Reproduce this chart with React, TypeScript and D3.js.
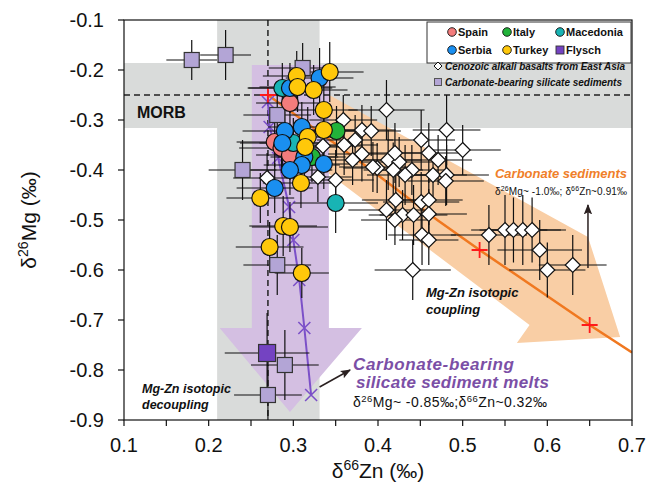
import React from 'react';
import * as d3 from 'd3';

const width = 646;
const height = 495;
const margin = { top: 20, right: 14, bottom: 75, left: 124 };

// [δ66Zn, δ26Mg, ±Zn, ±Mg]
const spain = [
  [0.296, -0.266, 0.04, 0.05],
  [0.278, -0.344, 0.045, 0.05],
  [0.286, -0.356, 0.05, 0.05],
  [0.296, -0.37, 0.04, 0.05],
];
const italy = [
  [0.351, -0.322, 0.05, 0.05],
  [0.322, -0.374, 0.04, 0.05],
];
const macedonia = [
  [0.287, -0.236, 0.04, 0.05],
  [0.3, -0.346, 0.04, 0.05],
  [0.35, -0.466, 0.05, 0.06],
];
const serbia = [
  [0.331, -0.216, 0.04, 0.06],
  [0.296, -0.236, 0.05, 0.05],
  [0.29, -0.322, 0.05, 0.05],
  [0.31, -0.314, 0.04, 0.05],
  [0.287, -0.346, 0.05, 0.05],
  [0.313, -0.374, 0.04, 0.05],
  [0.31, -0.39, 0.045, 0.05],
  [0.336, -0.388, 0.04, 0.05],
  [0.296, -0.4, 0.05, 0.05],
  [0.278, -0.436, 0.045, 0.05],
];
const turkey = [
  [0.304, -0.212, 0.04, 0.05],
  [0.343, -0.204, 0.04, 0.06],
  [0.305, -0.234, 0.045, 0.05],
  [0.324, -0.24, 0.04, 0.05],
  [0.336, -0.28, 0.04, 0.05],
  [0.336, -0.32, 0.045, 0.05],
  [0.317, -0.334, 0.04, 0.06],
  [0.314, -0.354, 0.04, 0.05],
  [0.309, -0.426, 0.045, 0.05],
  [0.261, -0.456, 0.04, 0.05],
  [0.288, -0.512, 0.04, 0.06],
  [0.296, -0.514, 0.045, 0.05],
  [0.272, -0.554, 0.04, 0.05],
  [0.31, -0.606, 0.032, 0.05],
];
const flysch = [[0.269, -0.766, 0.05, 0.08]];
const sediments = [
  [0.18, -0.18, 0.03, 0.04],
  [0.22, -0.17, 0.03, 0.05],
  [0.311, -0.196, 0.04, 0.05],
  [0.281, -0.29, 0.04, 0.06],
  [0.24, -0.4, 0.04, 0.06],
  [0.281, -0.59, 0.04, 0.06],
  [0.29, -0.79, 0.04, 0.07],
  [0.27, -0.85, 0.04, 0.06],
];
const eastAsia = [
  [0.41, -0.28, 0.045, 0.06], [0.381, -0.32, 0.04, 0.05], [0.392, -0.322, 0.035, 0.05],
  [0.373, -0.34, 0.045, 0.05], [0.381, -0.368, 0.04, 0.055], [0.37, -0.38, 0.05, 0.05],
  [0.451, -0.34, 0.04, 0.06], [0.481, -0.32, 0.04, 0.07], [0.5, -0.36, 0.045, 0.05],
  [0.46, -0.366, 0.045, 0.06], [0.471, -0.38, 0.04, 0.05], [0.412, -0.38, 0.04, 0.06],
  [0.425, -0.384, 0.045, 0.05], [0.42, -0.366, 0.035, 0.06], [0.44, -0.4, 0.04, 0.05],
  [0.432, -0.41, 0.045, 0.06], [0.399, -0.396, 0.04, 0.05], [0.418, -0.4, 0.035, 0.055],
  [0.465, -0.41, 0.04, 0.05], [0.481, -0.41, 0.05, 0.06], [0.48, -0.422, 0.045, 0.05],
  [0.421, -0.46, 0.04, 0.05], [0.451, -0.464, 0.045, 0.06], [0.46, -0.46, 0.04, 0.05],
  [0.41, -0.48, 0.045, 0.06], [0.429, -0.49, 0.04, 0.05], [0.442, -0.49, 0.04, 0.06],
  [0.46, -0.488, 0.045, 0.05], [0.452, -0.53, 0.04, 0.06], [0.46, -0.54, 0.035, 0.05],
  [0.441, -0.6, 0.045, 0.06], [0.531, -0.53, 0.045, 0.06], [0.55, -0.52, 0.04, 0.07],
  [0.56, -0.52, 0.04, 0.065], [0.571, -0.52, 0.045, 0.07], [0.582, -0.52, 0.04, 0.065],
  [0.591, -0.56, 0.05, 0.06], [0.6, -0.6, 0.045, 0.055], [0.63, -0.59, 0.04, 0.06],
  [0.359, -0.3, 0.04, 0.05], [0.335, -0.352, 0.045, 0.05], [0.36, -0.35, 0.04, 0.06],
  [0.329, -0.414, 0.04, 0.05], [0.35, -0.42, 0.045, 0.06], [0.269, -0.416, 0.04, 0.05],
  [0.42, -0.5, 0.04, 0.05], [0.394, -0.394, 0.04, 0.05],
];

// mixing curves
const carbonateLine = [[0.27, -0.25], [0.38, -0.385], [0.47, -0.5], [0.52, -0.56], [0.65, -0.71], [0.7, -0.765]];
const carbonateMarks = [[0.27, -0.25], [0.52, -0.56], [0.65, -0.71]];
const meltLine = [[0.27, -0.25], [0.27, -0.264], [0.272, -0.314], [0.282, -0.376], [0.295, -0.474], [0.3, -0.54], [0.307, -0.62], [0.313, -0.716], [0.321, -0.85]];
const meltMarks = meltLine.slice(1);

// reference fields
const morbMg = [-0.316, -0.186];
const morbZn = [0.21, 0.331];
const mantle = [0.27, -0.25];
const orangeArrow = [[0.308, -0.218], [0.648, -0.534], [0.686, -0.734], [0.564, -0.746], [0.579, -0.71], [0.308, -0.364]];
const purpleArrow = [[0.251, -0.19], [0.342, -0.19], [0.342, -0.716], [0.381, -0.716], [0.296, -0.884], [0.213, -0.716], [0.251, -0.716]];
const carbArrow = [[0.648, -0.596], [0.648, -0.47]];
const meltArrow = [[0.331, -0.834], [0.367, -0.8]];

const xTicks = [0.1, 0.15, 0.2, 0.25, 0.3, 0.35, 0.4, 0.45, 0.5, 0.55, 0.6, 0.65, 0.7];
const xLabels = [0.1, 0.2, 0.3, 0.4, 0.5, 0.6, 0.7];
const yTicks = [-0.1, -0.2, -0.3, -0.4, -0.5, -0.6, -0.7, -0.8, -0.9];

const font = '"Liberation Sans", Arial, Helvetica, sans-serif';

const App = () => {
  const x = d3.scaleLinear().domain([0.1, 0.7]).range([margin.left, width - margin.right - 0]);
  const y = d3.scaleLinear().domain([-0.9, -0.1]).range([height - margin.bottom, margin.top]);
  const x0 = x(0.1), x1 = x(0.7), y0 = y(-0.9), y1 = y(-0.1);
  const poly = (pts) => pts.map(p => `${x(p[0])},${y(p[1])}`).join(' ');
  const line = d3.line().x(d => x(d[0])).y(d => y(d[1]));

  const errBars = (data, key) => data.map((d, i) => (
    <g key={key + i} stroke="#111" strokeWidth={1.2}>
      <line x1={x(d[0] - d[2])} x2={x(d[0] + d[2])} y1={y(d[1])} y2={y(d[1])} />
      <line x1={x(d[0])} x2={x(d[0])} y1={y(d[1] - d[3])} y2={y(d[1] + d[3])} />
    </g>
  ));
  const circles = (data, color, key) => data.map((d, i) => (
    <circle key={key + i} cx={x(d[0])} cy={y(d[1])} r={8.5} fill={color} stroke="#111" strokeWidth={1.2} />
  ));
  const squares = (data, color, s, key) => data.map((d, i) => (
    <rect key={key + i} x={x(d[0]) - s / 2} y={y(d[1]) - s / 2} width={s} height={s} fill={color} stroke="#333" strokeWidth={1.2} />
  ));
  const diamond = (cx, cy, r) => `M${cx},${cy - r}L${cx + r},${cy}L${cx},${cy + r}L${cx - r},${cy}Z`;

  const series = [
    [spain, '#f47c7c', 'sp'],
    [italy, '#22b33a', 'it'],
    [macedonia, '#18b4b4', 'mk'],
    [serbia, '#1a8ff0', 'rs'],
    [turkey, '#ffc80a', 'tr'],
  ];

  return (
    <svg width={width} height={height} style={{ position: 'absolute', left: 0, top: 0, fontFamily: font }}>
      <defs>
        <clipPath id="plot"><rect x={x0} y={y1} width={x1 - x0} height={y0 - y1} /></clipPath>
        <marker id="ah" viewBox="0 0 10 10" refX="9" refY="5" markerWidth="7" markerHeight="7" orient="auto">
          <path d="M0,1L10,5L0,9L2,5Z" fill="#2a2020" />
        </marker>
      </defs>
      <rect width={width} height={height} fill="#fff" />
      <g clipPath="url(#plot)">
        <rect x={x0} width={x1 - x0} y={y(morbMg[1])} height={y(morbMg[0]) - y(morbMg[1])} fill="#d9dbda" />
        <rect x={x(morbZn[0])} width={x(morbZn[1]) - x(morbZn[0])} y={y1} height={y0 - y1} fill="#d9dbda" />
        <polygon points={poly(orangeArrow)} fill="#f9cea5" />
        <polygon points={poly(purpleArrow)} fill="#d4bfe2" />
        <line x1={x0} x2={x1} y1={y(mantle[1])} y2={y(mantle[1])} stroke="#222" strokeWidth={1.5} strokeDasharray="6,4" />
        <line x1={x(mantle[0])} x2={x(mantle[0])} y1={y1} y2={y0} stroke="#222" strokeWidth={1.5} strokeDasharray="6,4" />
        <path d={line(carbonateLine)} fill="none" stroke="#f07820" strokeWidth={2.5} />
        <path d={line(meltLine)} fill="none" stroke="#7b50c8" strokeWidth={2} />
        {meltMarks.map((d, i) => (
          <path key={'mm' + i} d={`M${x(d[0]) - 6},${y(d[1]) - 6}L${x(d[0]) + 6},${y(d[1]) + 6}M${x(d[0]) + 6},${y(d[1]) - 6}L${x(d[0]) - 6},${y(d[1]) + 6}`} stroke="#7b50c8" strokeWidth={1.6} />
        ))}
        {carbonateMarks.map((d, i) => (
          <path key={'cm' + i} d={`M${x(d[0]) - 8},${y(d[1])}L${x(d[0]) + 8},${y(d[1])}M${x(d[0])},${y(d[1]) - 8}L${x(d[0])},${y(d[1]) + 8}`} stroke="#ff1a1a" strokeWidth={1.8} />
        ))}
        {errBars(sediments, 'es')}
        {errBars(flysch, 'ef')}
        {errBars(eastAsia, 'ea')}
        {series.map(s => errBars(s[0], 'e' + s[2]))}
        {squares(sediments, '#b3a5d6', 15, 'sq')}
        {squares(flysch, '#7443c2', 17, 'fl')}
        {eastAsia.map((d, i) => (
          <path key={'dm' + i} d={diamond(x(d[0]), y(d[1]), 7.5)} fill="#fff" stroke="#111" strokeWidth={1.2} />
        ))}
        {series.map(s => circles(s[0], s[1], s[2]))}
      </g>

      {/* frame and axes */}
      <rect x={x0} y={y1} width={x1 - x0} height={y0 - y1} fill="none" stroke="#111" strokeWidth={1.2} />
      {xTicks.map(t => <line key={'xt' + t} x1={x(t)} x2={x(t)} y1={y0} y2={y0 + 6} stroke="#111" strokeWidth={1.2} />)}
      {xLabels.map(t => <text key={'xl' + t} x={x(t)} y={y0 + 32} fontSize={20} textAnchor="middle" fill="#111">{t.toFixed(1)}</text>)}
      {yTicks.map(t => <line key={'yt' + t} x1={x0 - 6} x2={x0} y1={y(t)} y2={y(t)} stroke="#111" strokeWidth={1.2} />)}
      {yTicks.map(t => <text key={'yl' + t} x={104} y={y(t) + 7} fontSize={20} textAnchor="end" fill="#111">{t.toFixed(1)}</text>)}
      <text x={(x0 + x1) / 2} y={478} fontSize={21} textAnchor="middle" fill="#111">δ<tspan dy={-8} fontSize={14}>66</tspan><tspan dy={8}>Zn (‰)</tspan></text>
      <text transform={`translate(36,${(y0 + y1) / 2}) rotate(-90)`} fontSize={21} textAnchor="middle" fill="#111">δ<tspan dy={-8} fontSize={14}>26</tspan><tspan dy={8}>Mg (‰)</tspan></text>

      {/* annotations */}
      <text x={137} y={118} fontSize={16} fontWeight="bold" fill="#111">MORB</text>
      <text x={495} y={178} fontSize={13} fontWeight="bold" fontStyle="italic" fill="#f07f2a" textLength={132}>Carbonate sediments</text>
      <text x={495} y={195} fontSize={10} fill="#111" textLength={132}>δ<tspan dy={-4} fontSize={7}>26</tspan><tspan dy={4}>Mg~ -1.0‰; δ</tspan><tspan dy={-4} fontSize={7}>66</tspan><tspan dy={4}>Zn~0.91‰</tspan></text>
      <path d={line(carbArrow)} stroke="#2a2020" strokeWidth={1.5} markerEnd="url(#ah)" />
      <text x={426} y={297} fontSize={13} fontWeight="bold" fontStyle="italic" fill="#111">Mg-Zn isotopic</text>
      <text x={426} y={314} fontSize={13} fontWeight="bold" fontStyle="italic" fill="#111">coupling</text>
      <text x={142} y={393} fontSize={12.5} fontWeight="bold" fontStyle="italic" fill="#111">Mg-Zn isotopic</text>
      <text x={142} y={409} fontSize={12.5} fontWeight="bold" fontStyle="italic" fill="#111">decoupling</text>
      <path d={line(meltArrow)} stroke="#2a2020" strokeWidth={1.5} markerEnd="url(#ah)" />
      <text x={353} y={370} fontSize={17} fontWeight="bold" fontStyle="italic" fill="#7b4fa6" textLength={161}>Carbonate-bearing</text>
      <text x={356} y={388} fontSize={17} fontWeight="bold" fontStyle="italic" fill="#7b4fa6" textLength={193}>silicate sediment melts</text>
      <text x={353} y={407} fontSize={14} fill="#111" textLength={194}>δ<tspan dy={-5} fontSize={9.5}>26</tspan><tspan dy={5}>Mg~ -0.85‰;δ</tspan><tspan dy={-5} fontSize={9.5}>66</tspan><tspan dy={5}>Zn~0.32‰</tspan></text>

      {/* legend */}
      <rect x={427} y={22} width={204} height={41} fill="#fff" stroke="#333" strokeWidth={1} />
      {[
        ['Spain', '#f47c7c', 452, 32, 'c'],
        ['Italy', '#22b33a', 507, 32, 'c'],
        ['Macedonia', '#18b4b4', 560, 32, 'c'],
        ['Serbia', '#1a8ff0', 452, 50, 'c'],
        ['Turkey', '#ffc80a', 507, 50, 'c'],
        ['Flysch', '#7443c2', 560, 50, 's'],
      ].map(([label, color, lx, ly, kind]) => (
        <g key={label}>
          {kind === 'c'
            ? <circle cx={lx} cy={ly} r={4.3} fill={color} stroke="#111" strokeWidth={0.9} />
            : <rect x={lx - 4} y={ly - 4} width={8} height={8} fill={color} stroke="#333" strokeWidth={0.9} />}
          <text x={lx + 6} y={ly + 4} fontSize={11} fontWeight="bold" fill="#111">{label}</text>
        </g>
      ))}
      <path d={diamond(438, 66, 4)} fill="#fff" stroke="#111" strokeWidth={1} />
      <text x={445} y={70} fontSize={10} fontWeight="bold" fontStyle="italic" fill="#111" textLength={180}>Cenozoic alkali basalts from East Asia</text>
      <rect x={434.5} y={78.5} width={7} height={7} fill="#b3a5d6" stroke="#555" strokeWidth={1} />
      <text x={445} y={86} fontSize={10} fontWeight="bold" fontStyle="italic" fill="#111" textLength={177}>Carbonate-bearing silicate sediments</text>
    </svg>
  );
};

export default App;
